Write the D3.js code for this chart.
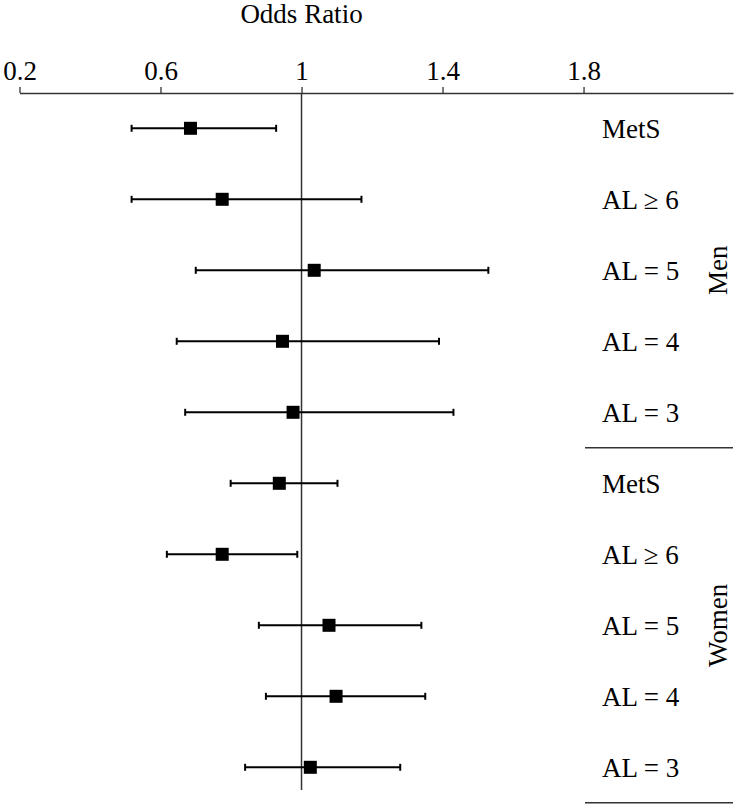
<!DOCTYPE html>
<html>
<head>
<meta charset="utf-8">
<script src="https://cdn.jsdelivr.net/npm/d3@7"></script>
<style>
  html, body { margin: 0; padding: 0; background: #fff; }
  svg { display: block; }
  svg text { font-family: "Liberation Serif", "Times New Roman", serif !important; }
</style>
</head>
<body>
<svg id="chart" width="736" height="806"></svg>
<script>
// ---- data ----
const labels = ["MetS", "AL \u2265 6", "AL = 5", "AL = 4", "AL = 3",
                "MetS", "AL \u2265 6", "AL = 5", "AL = 4", "AL = 3"];
const groups = ["Men", "Men", "Men", "Men", "Men",
                "Women", "Women", "Women", "Women", "Women"];
const oddsRatio = [0.685, 0.775, 1.036, 0.946, 0.976, 0.937, 0.775, 1.078, 1.098, 1.025];
const ciLower   = [0.518, 0.518, 0.700, 0.646, 0.670, 0.799, 0.618, 0.879, 0.899, 0.840];
const ciUpper   = [0.928, 1.170, 1.530, 1.390, 1.431, 1.102, 0.988, 1.340, 1.351, 1.280];
const tickValues = [0.2, 0.6, 1, 1.4, 1.8];
const groupNames = ["Men", "Women"];
const axisTitle = "Odds Ratio";

// ---- layout ----
const FONT = "Liberation Serif, Times New Roman, serif";
const svg = d3.select("#chart").attr("font-family", FONT);
const axisY = 93;
const x = d3.scaleLinear().domain([0.2, 2.224]).range([19.5, 733]);
const rows = d3.range(labels.length);
const y = d3.scaleBand().domain(rows).range([92.8, 802.8]);
const yc = i => y(i) + y.bandwidth() / 2;

const data = rows.map(i => ({
  label: labels[i], group: groups[i], or: oddsRatio[i], lo: ciLower[i], hi: ciUpper[i], i
}));

// axis
const axis = d3.axisTop(x).tickValues(tickValues).tickFormat(d3.format(""))
  .tickSize(6).tickSizeOuter(0).tickPadding(7);
const gAx = svg.append("g").attr("transform", `translate(0,${axisY})`).call(axis)
  .attr("font-family", FONT).attr("font-size", 27);
gAx.select(".domain").attr("stroke", "#333").attr("stroke-width", 1.3);
gAx.selectAll(".tick line").attr("stroke", "#333").attr("stroke-width", 1.3);
gAx.selectAll(".tick text").attr("fill", "#000");

svg.append("text").attr("x", x(1)).attr("y", 23).attr("text-anchor", "middle")
  .attr("font-size", 27).attr("fill", "#000").text(axisTitle);

// reference line at 1
svg.append("line").attr("x1", x(1)).attr("x2", x(1))
  .attr("y1", axisY).attr("y2", 790)
  .attr("stroke", "#333").attr("stroke-width", 1.5);

// error bars
const g = svg.append("g");
g.selectAll("line.ci").data(data).join("line").attr("class", "ci")
  .attr("x1", d => x(d.lo)).attr("x2", d => x(d.hi))
  .attr("y1", d => yc(d.i)).attr("y2", d => yc(d.i))
  .attr("stroke", "#000").attr("stroke-width", 2);
["lo", "hi"].forEach(k => {
  g.selectAll("line.cap-" + k).data(data).join("line").attr("class", "cap-" + k)
    .attr("x1", d => x(d[k])).attr("x2", d => x(d[k]))
    .attr("y1", d => yc(d.i) - 3.5).attr("y2", d => yc(d.i) + 3.5)
    .attr("stroke", "#000").attr("stroke-width", 2);
});
const sq = 13;
g.selectAll("rect.pt").data(data).join("rect").attr("class", "pt")
  .attr("x", d => x(d.or) - sq / 2).attr("y", d => yc(d.i) - sq / 2)
  .attr("width", sq).attr("height", sq).attr("fill", "#000");

// row labels
svg.selectAll("text.lab").data(data).join("text").attr("class", "lab")
  .attr("x", 602).attr("y", d => yc(d.i) + 9.5)
  .attr("font-size", 27).attr("fill", "#000").text(d => d.label);

// group separators & labels
groupNames.forEach(name => {
  const idx = rows.filter(i => groups[i] === name);
  const last = d3.max(idx), first = d3.min(idx);
  const yb = y(last) + y.bandwidth();
  svg.append("line").attr("x1", 585).attr("x2", 733).attr("y1", yb).attr("y2", yb)
    .attr("stroke", "#333").attr("stroke-width", 1.5);
  const mid = (y(first) + yb) / 2;
  svg.append("text").attr("transform", `translate(727,${mid}) rotate(-90)`)
    .attr("text-anchor", "middle").attr("font-size", 27).attr("fill", "#000").text(name);
});
</script>
</body>
</html>
